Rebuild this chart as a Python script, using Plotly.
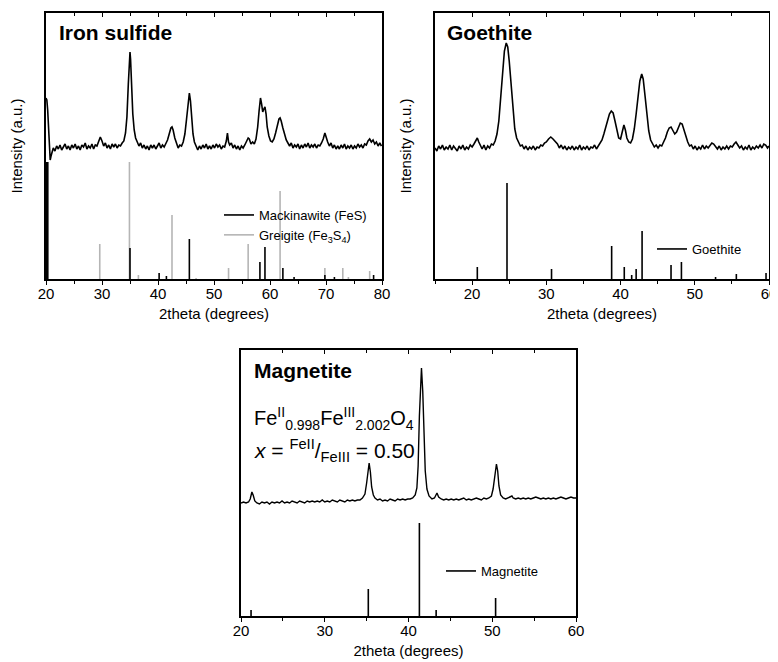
import plotly.graph_objects as go

FONT = "Liberation Sans, Arial, sans-serif"

# ---------------- Iron sulfide ----------------
fes_tt = [20.0, 20.15, 20.3, 20.45, 20.6, 20.75, 20.9, 21.1, 21.3, 21.6, 21.9, 22.2, 22.5, 22.8, 23.1, 23.4, 23.7, 24.0,
          24.3, 24.6, 24.9, 25.2, 25.5, 25.8, 26.1, 26.4, 26.7, 27.0, 27.3, 27.6, 27.9, 28.2, 28.5, 28.8, 29.1, 29.4,
          29.7, 30.0, 30.3, 30.6, 30.9, 31.2, 31.5, 31.8, 32.1, 32.4, 32.7, 33.0, 33.3, 33.6, 33.9, 34.2, 34.45, 34.7,
          34.9, 35.0, 35.1, 35.3, 35.5, 35.75, 36.0, 36.3, 36.6, 36.9, 37.2, 37.5, 37.8, 38.1, 38.4, 38.7, 39.0, 39.3,
          39.6, 39.9, 40.2, 40.5, 40.8, 41.1, 41.4, 41.7, 42.0, 42.3, 42.5, 42.7, 43.0, 43.3, 43.6, 43.9, 44.2, 44.5,
          44.8, 45.1, 45.35, 45.6, 45.8, 46.0, 46.25, 46.5, 46.8, 47.1, 47.4, 47.7, 48.0, 48.3, 48.6, 48.9, 49.2, 49.5,
          49.8, 50.1, 50.4, 50.7, 51.0, 51.3, 51.6, 51.9, 52.2, 52.4, 52.6, 52.8, 53.1, 53.4, 53.7, 54.0, 54.3, 54.6,
          54.9, 55.2, 55.5, 55.8, 56.1, 56.3, 56.6, 56.9, 57.2, 57.5, 57.8, 58.05, 58.3, 58.5, 58.7, 58.9, 59.1, 59.3,
          59.5, 59.8, 60.1, 60.4, 60.7, 61.0, 61.3, 61.6, 61.8, 62.0, 62.3, 62.6, 62.9, 63.2, 63.5, 63.8, 64.1, 64.4,
          64.7, 65.0, 65.3, 65.6, 65.9, 66.2, 66.5, 66.8, 67.1, 67.4, 67.7, 68.0, 68.3, 68.6, 68.9, 69.2, 69.5, 69.8,
          70.0, 70.3, 70.6, 70.9, 71.2, 71.5, 71.8, 72.1, 72.4, 72.7, 73.0, 73.3, 73.6, 73.9, 74.2, 74.5, 74.8, 75.1,
          75.4, 75.7, 76.0, 76.3, 76.6, 76.9, 77.2, 77.5, 77.8, 78.1, 78.4, 78.7, 79.0, 79.3, 79.6, 79.9]
fes_int = [181, 179, 169, 149, 127, 119, 123, 129, 131, 128, 133, 130, 134, 129, 132, 135, 130, 133,
           129, 134, 131, 135, 130, 133, 129, 134, 132, 136, 130, 133, 131, 135, 130, 134, 133, 137,
           142, 138, 133, 136, 131, 134, 130, 135, 132, 135, 131, 134, 133, 136, 138, 146, 162, 195,
           222, 227, 220, 192, 165, 149, 141, 137, 133, 136, 131, 134, 130, 133, 129, 134, 131, 134,
           130, 133, 136, 131, 134, 132, 136, 139, 145, 151, 152, 149, 141, 136, 131, 134, 133, 137,
           145, 160, 176, 186, 178, 160, 145, 137, 133, 129, 133, 130, 134, 131, 135, 130, 133, 130,
           134, 131, 135, 132, 134, 130, 133, 132, 138, 146, 137, 134, 136, 131, 134, 130, 133, 129,
           133, 131, 134, 137, 141, 140, 135, 137, 135, 140, 152, 168, 181, 175, 167, 170, 172, 165,
           152, 143, 138, 137, 140, 146, 154, 160, 161, 158, 151, 144, 139, 136, 133, 136, 131, 134,
           132, 135, 130, 134, 131, 135, 132, 136, 131, 134, 132, 135, 131, 134, 133, 136, 140, 146,
           142, 137, 133, 136, 131, 134, 130, 133, 130, 134, 131, 135, 130, 133, 131, 134, 130, 133,
           131, 135, 132, 134, 131, 135, 134, 138, 140, 137, 139, 135, 137, 133, 136, 133]

mack_edge_pos = [20.15]
mack_edge_int = [117]
mack_pos = [35.0, 40.2, 41.5, 45.6, 58.2, 59.1, 62.3, 64.3, 69.8, 71.5, 78.5]
mack_int = [31, 6, 3, 40, 17, 32, 11, 2, 4, 2, 4]
greig_pos = [29.6, 34.9, 36.5, 42.5, 46.8, 52.6, 56.1, 61.8, 69.8, 73.0, 74.0, 77.8]
greig_int = [35, 117, 4, 64, 1, 11, 35, 88, 11, 11, 2, 8]

# ---------------- Goethite ----------------
goe_tt = [15.0, 15.25, 15.5, 15.75, 16.0, 16.25, 16.5, 16.75, 17.0, 17.25, 17.5, 17.75, 18.0, 18.25, 18.5, 18.75,
          19.0, 19.25, 19.5, 19.75, 20.0, 20.25, 20.5, 20.7, 20.9, 21.1, 21.35, 21.6, 21.85, 22.1, 22.35, 22.6,
          22.85, 23.1, 23.35, 23.6, 23.85, 24.1, 24.35, 24.6, 24.8, 25.0, 25.25, 25.5, 25.75, 26.0, 26.25, 26.5,
          26.75, 27.0, 27.25, 27.5, 27.75, 28.0, 28.25, 28.5, 28.75, 29.0, 29.25, 29.5, 29.75, 30.0, 30.3, 30.6,
          30.9, 31.2, 31.5, 31.75, 32.0, 32.25, 32.5, 32.75, 33.0, 33.25, 33.5, 33.75, 34.0, 34.25, 34.5, 34.75,
          35.0, 35.25, 35.5, 35.75, 36.0, 36.25, 36.5, 36.75, 37.0, 37.25, 37.5, 37.75, 38.0, 38.25, 38.5, 38.75,
          39.0, 39.25, 39.5, 39.75, 40.0, 40.2, 40.45, 40.65, 40.85, 41.1, 41.35, 41.6, 41.85, 42.1, 42.35, 42.6,
          42.85, 43.05, 43.3, 43.55, 43.8, 44.05, 44.3, 44.55, 44.8, 45.05, 45.3, 45.55, 45.8, 46.05, 46.3, 46.55,
          46.8, 47.05, 47.3, 47.55, 47.8, 48.05, 48.3, 48.55, 48.8, 49.05, 49.3, 49.55, 49.8, 50.05, 50.3, 50.55,
          50.8, 51.05, 51.3, 51.55, 51.8, 52.05, 52.3, 52.55, 52.8, 53.05, 53.3, 53.55, 53.8, 54.05, 54.3, 54.55,
          54.8, 55.05, 55.3, 55.55, 55.8, 56.05, 56.3, 56.55, 56.8, 57.05, 57.3, 57.55, 57.8, 58.05, 58.3, 58.55,
          58.8, 59.05, 59.3, 59.55, 59.8, 60.0]
goe_int = [131, 128, 133, 130, 134, 129, 132, 130, 134, 129, 133, 131, 128, 133, 130, 134,
           129, 132, 130, 134, 132, 135, 139, 141, 137, 133, 130, 134, 129, 133, 131, 135,
           134, 138, 145, 158, 180, 207, 228, 236, 232, 218, 192, 166, 150, 141, 137, 133,
           134, 130, 133, 129, 132, 130, 133, 129, 132, 131, 134, 133, 136, 137, 140, 142,
           140, 137, 135, 131, 134, 130, 133, 129, 132, 130, 133, 129, 132, 130, 134, 129,
           132, 130, 133, 129, 132, 131, 134, 130, 133, 135, 139, 145, 151, 159, 165, 168,
           166, 158, 148, 141, 140, 146, 154, 149, 141, 137, 136, 140, 150, 165, 182, 198,
           205, 200, 183, 163, 148, 139, 135, 132, 134, 131, 134, 133, 137, 141, 147, 151,
           152, 148, 145, 147, 152, 156, 155, 149, 142, 137, 133, 134, 130, 133, 129, 132,
           130, 134, 130, 133, 131, 134, 136, 135, 132, 130, 133, 129, 132, 130, 133, 130,
           133, 132, 135, 137, 134, 131, 133, 129, 132, 130, 134, 129, 132, 130, 133, 131,
           134, 131, 135, 134, 131, 133]

goe_ref_pos = [20.7, 24.7, 30.7, 38.8, 40.5, 41.5, 42.1, 42.9, 46.8, 48.2, 52.8, 55.6, 59.6]
goe_ref_int = [12, 96, 10, 33, 12, 4, 10, 48, 14, 17, 2, 5, 6]

# ---------------- Magnetite ----------------
mag_tt = [20.0, 20.3, 20.6, 20.9, 21.1, 21.3, 21.45, 21.65, 21.9, 22.2, 22.5, 22.8, 23.1, 23.4, 23.7, 24.0, 24.3,
          24.6, 24.9, 25.2, 25.5, 25.8, 26.1, 26.4, 26.7, 27.0, 27.3, 27.6, 27.9, 28.2, 28.5, 28.8, 29.1, 29.4,
          29.7, 30.0, 30.3, 30.6, 30.9, 31.2, 31.5, 31.8, 32.1, 32.4, 32.7, 33.0, 33.3, 33.6, 33.9, 34.2, 34.5,
          34.8, 35.0, 35.15, 35.3, 35.45, 35.6, 35.8, 36.0, 36.3, 36.6, 36.9, 37.2, 37.5, 37.8, 38.1, 38.4, 38.7,
          39.0, 39.3, 39.6, 39.9, 40.2, 40.5, 40.8, 41.0, 41.15, 41.3, 41.45, 41.55, 41.7, 41.85, 42.0, 42.2,
          42.45, 42.8, 43.1, 43.4, 43.6, 43.9, 44.2, 44.5, 44.8, 45.1, 45.4, 45.7, 46.0, 46.3, 46.6, 46.9, 47.2,
          47.5, 47.8, 48.1, 48.4, 48.7, 49.0, 49.3, 49.6, 49.9, 50.1, 50.3, 50.5, 50.65, 50.8, 51.0, 51.3, 51.6,
          51.9, 52.2, 52.35, 52.5, 52.8, 53.1, 53.4, 53.7, 54.0, 54.3, 54.6, 54.9, 55.2, 55.5, 55.8, 56.1, 56.4,
          56.7, 57.0, 57.3, 57.6, 57.9, 58.2, 58.5, 58.8, 59.1, 59.4, 59.7, 60.0]
mag_int = [113, 114, 113, 114, 117, 124, 121, 115, 113, 112, 114, 113, 114, 112, 114, 113, 114,
           113, 115, 113, 114, 113, 115, 114, 113, 115, 114, 113, 115, 114, 115, 114, 115, 114,
           116, 114, 115, 114, 116, 115, 114, 116, 115, 114, 116, 115, 116, 115, 116, 116, 118,
           122, 133, 146, 153, 144, 129, 121, 118, 116, 117, 115, 116, 115, 117, 116, 115, 117,
           116, 117, 116, 117, 117, 118, 121, 128, 150, 200, 243, 248, 225, 180, 145, 127,
           120, 117, 118, 123, 119, 117, 116, 117, 116, 117, 116, 117, 116, 117, 118, 116, 117,
           116, 117, 118, 117, 116, 118, 117, 118, 120, 127, 142, 152, 145, 130, 121, 118, 117,
           118, 119, 120, 118, 117, 118, 117, 118, 117, 118, 117, 118, 119, 118, 117, 118, 117,
           118, 117, 118, 117, 118, 119, 118, 117, 118, 119, 118, 118]

mag_ref_pos = [21.2, 35.2, 41.3, 43.3, 50.4]
mag_ref_int = [6, 27, 93, 6, 18]

x_ticks_fes = [20, 30, 40, 50, 60, 70, 80]
x_ticks_goe = [20, 30, 40, 50, 60]
x_ticks_mag = [20, 30, 40, 50, 60]


def sticks(pos, hts):
    xs, ys = [], []
    for p, h in zip(pos, hts):
        xs += [p, p, None]
        ys += [0, h, None]
    return xs, ys


fig = go.Figure()
BLACK = "#000000"
GREY = "#b5b5b5"

# Panel 1
gx, gy = sticks(greig_pos, greig_int)
fig.add_trace(go.Scatter(x=gx, y=gy, mode="lines", line=dict(color=GREY, width=1.6),
                         name="Greigite (Fe<sub>3</sub>S<sub>4</sub>)", legend="legend", legendrank=2,
                         xaxis="x", yaxis="y"))
mx, my = sticks(mack_pos, mack_int)
fig.add_trace(go.Scatter(x=mx, y=my, mode="lines", line=dict(color=BLACK, width=1.6),
                         name="Mackinawite (FeS)", legend="legend", legendrank=1, xaxis="x", yaxis="y"))
ex, ey = sticks(mack_edge_pos, mack_edge_int)
fig.add_trace(go.Scatter(x=ex, y=ey, mode="lines", line=dict(color=BLACK, width=3.5),
                         showlegend=False, xaxis="x", yaxis="y"))
fig.add_trace(go.Scatter(x=fes_tt, y=fes_int, mode="lines", line=dict(color=BLACK, width=1.6),
                         showlegend=False, xaxis="x", yaxis="y"))

# Panel 2
sx, sy = sticks(goe_ref_pos, goe_ref_int)
fig.add_trace(go.Scatter(x=sx, y=sy, mode="lines", line=dict(color=BLACK, width=1.6),
                         name="Goethite", legend="legend2", xaxis="x2", yaxis="y2"))
fig.add_trace(go.Scatter(x=goe_tt, y=goe_int, mode="lines", line=dict(color=BLACK, width=1.6),
                         showlegend=False, xaxis="x2", yaxis="y2"))

# Panel 3
sx, sy = sticks(mag_ref_pos, mag_ref_int)
fig.add_trace(go.Scatter(x=sx, y=sy, mode="lines", line=dict(color=BLACK, width=1.6),
                         name="Magnetite", legend="legend3", xaxis="x3", yaxis="y3"))
fig.add_trace(go.Scatter(x=mag_tt, y=mag_int, mode="lines", line=dict(color=BLACK, width=1.4),
                         showlegend=False, xaxis="x3", yaxis="y3"))

# invisible traces for top tick axes
for xa, ya in (("x4", "y"), ("x5", "y2"), ("x6", "y3")):
    fig.add_trace(go.Scatter(x=[None], y=[None], xaxis=xa, yaxis=ya, showlegend=False, hoverinfo="skip"))

# page offset of the plot div (browser body margin)
OFF = 8
W, H = 770, 654


def px(a):
    return (a - OFF) / W


def py(b):
    return 1 - (b - OFF) / H


def dx(a, b):
    return [px(a), px(b)]


def dy(top, bot):
    return [py(bot), py(top)]


tickfont = dict(family=FONT, size=15, color="black")
titlefont = dict(family=FONT, size=15, color="black")


def xaxis(domain, rng, tickvals, anchor):
    return dict(domain=domain, range=rng, anchor=anchor, tickvals=tickvals, automargin=False,
                showline=True, linecolor="black", linewidth=1.6, mirror=True,
                ticks="outside", ticklen=4, tickwidth=1.3, tickcolor="black", ticklabelstandoff=-4,
                minor=dict(dtick=5, tick0=0, ticks="outside", ticklen=3, tickwidth=1.3, tickcolor="black"),
                showgrid=False, zeroline=False, tickfont=tickfont,
                title=dict(text="2theta (degrees)", font=titlefont, standoff=8))


def topaxis(overlay, rng, tickvals, anchor):
    return dict(overlaying=overlay, side="top", anchor=anchor, range=rng, tickvals=tickvals, automargin=False,
                ticks="inside", ticklen=4, tickwidth=1.3, tickcolor="black", showticklabels=False,
                minor=dict(dtick=5, tick0=0, ticks="inside", ticklen=3, tickwidth=1.3, tickcolor="black"),
                showline=False, showgrid=False, zeroline=False)


def yaxis(domain, anchor, title):
    d = dict(domain=domain, range=[0, 266], anchor=anchor, showline=True, linecolor="black", automargin=False,
             linewidth=1.6, mirror=True, ticks="", showticklabels=False, showgrid=False, zeroline=False)
    if title:
        d["title"] = dict(text="Intensity (a.u.)", font=titlefont, standoff=18)
    return d


legfont = dict(family=FONT, size=13, color="black")
fig.update_layout(
    width=W, height=H, margin=dict(l=0, r=0, t=0, b=0, autoexpand=False),
    paper_bgcolor="white", plot_bgcolor="white",
    font=dict(family=FONT, color="black"),
    xaxis=xaxis(dx(46, 382), [20, 80], x_ticks_fes, "y"),
    yaxis=yaxis(dy(13, 279), "x", True),
    xaxis2=xaxis(dx(435, 769), [15, 60], x_ticks_goe, "y2"),
    yaxis2=yaxis(dy(13, 279), "x2", True),
    xaxis3=xaxis(dx(241, 576), [20, 60], x_ticks_mag, "y3"),
    yaxis3=yaxis(dy(350, 616), "x3", False),
    xaxis4=topaxis("x", [20, 80], x_ticks_fes, "y"),
    xaxis5=topaxis("x2", [15, 60], x_ticks_goe, "y2"),
    xaxis6=topaxis("x3", [20, 60], x_ticks_mag, "y3"),
    legend=dict(x=px(219), y=py(200), xanchor="left", yanchor="top", bgcolor="rgba(0,0,0,0)",
                font=legfont, tracegroupgap=0, itemwidth=30),
    legend2=dict(x=px(652), y=py(234), xanchor="left", yanchor="top", bgcolor="rgba(0,0,0,0)",
                 font=legfont, itemwidth=30),
    legend3=dict(x=px(441), y=py(556), xanchor="left", yanchor="top", bgcolor="rgba(0,0,0,0)",
                 font=legfont, itemwidth=30),
    showlegend=True,
)

ann_font = dict(family=FONT, size=21, color="black")
fig.add_annotation(text="<b>Iron sulfide</b>", x=px(57), y=py(32), xref="paper", yref="paper",
                   xanchor="left", yanchor="middle", showarrow=False, font=ann_font)
fig.add_annotation(text="<b>Goethite</b>", x=px(445), y=py(32), xref="paper", yref="paper",
                   xanchor="left", yanchor="middle", showarrow=False, font=ann_font)
fig.add_annotation(text="<b>Magnetite</b>", x=px(252), y=py(370), xref="paper", yref="paper",
                   xanchor="left", yanchor="middle", showarrow=False, font=ann_font)
fig.add_annotation(text="Fe<sup>II</sup><sub>0.998</sub>Fe<sup>III</sup><sub>2.002</sub>O<sub>4</sub>",
                   x=px(252), y=py(418), xref="paper", yref="paper",
                   xanchor="left", yanchor="middle", showarrow=False, font=dict(family=FONT, size=20, color="black"))
fig.add_annotation(text="<i>x</i> = <sup>FeII</sup>/<sub>FeIII</sub> = 0.50",
                   x=px(252), y=py(450), xref="paper", yref="paper",
                   xanchor="left", yanchor="middle", showarrow=False, font=dict(family=FONT, size=21, color="black"))

fig.write_html("out.html")
